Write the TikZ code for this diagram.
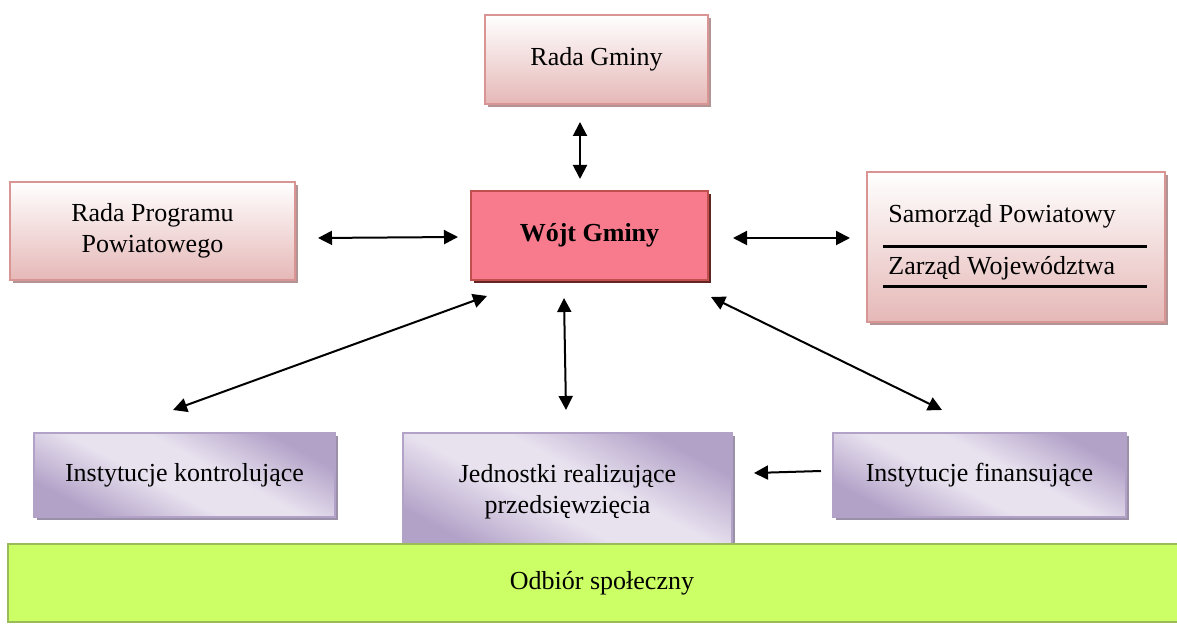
\documentclass[tikz,border=0pt]{standalone}
\usepackage{fontspec}
\setmainfont{Liberation Serif}
\usetikzlibrary{arrows.meta,calc,shadows}
\definecolor{PinkTop}{HTML}{FFFFFF}
\definecolor{PinkBot}{HTML}{E5B8B7}
\definecolor{PinkLine}{HTML}{D99594}
\definecolor{PinkShade}{HTML}{B39494}
\definecolor{WojtFill}{HTML}{F77B8C}
\definecolor{WojtLine}{HTML}{C0504D}
\definecolor{WojtShade}{HTML}{632523}
\definecolor{LavLight}{HTML}{E8E2EF}
\definecolor{LavDark}{HTML}{B3A2C8}
\definecolor{LavShade}{HTML}{9A90A8}
\definecolor{BarFill}{HTML}{CCFF66}
\definecolor{BarLine}{HTML}{9BBB59}
\pgfdeclarehorizontalshading{lavshade}{100bp}{color(0bp)=(LavDark); color(26bp)=(LavDark);
  color(44bp)=(LavLight); color(56bp)=(LavLight); color(74bp)=(LavDark); color(100bp)=(LavDark)}
\tikzset{
  boxfont/.style={font=\fontsize{13}{15.5}\selectfont},
  pinkbox/.style={boxfont,draw=PinkLine,line width=1pt,top color=PinkTop,bottom color=PinkBot,
    general shadow={fill=PinkShade,shadow xshift=1.5pt,shadow yshift=-1.5pt},align=center},
  wojtbox/.style={boxfont,draw=WojtLine,line width=1pt,fill=WojtFill,
    general shadow={fill=WojtShade,shadow xshift=1.5pt,shadow yshift=-1.5pt}},
  lavbox/.style={boxfont,draw=LavDark,line width=1pt,shading=lavshade,shading angle=62,
    general shadow={fill=LavShade,shadow xshift=1.5pt,shadow yshift=-1.5pt},align=center},
  barbox/.style={boxfont,draw=BarLine,line width=1pt,fill=BarFill},
  link/.style={{Triangle[length=7pt,width=7pt]}-{Triangle[length=7pt,width=7pt]},line width=1pt},
  onelink/.style={-{Triangle[length=7pt,width=7pt]},line width=1pt},
  rule/.style={line width=1.5pt}
}
\begin{document}
\begin{tikzpicture}[x=0.5pt,y=-0.5pt]
  \useasboundingbox (0,0) rectangle (1177,624);
  % top row
  \node[pinkbox,minimum width=111.5pt,minimum height=44.5pt] (rada) at (596.5,59.5) {Rada Gminy};
  \node[pinkbox,minimum width=142.5pt,minimum height=49pt] (program) at (152.5,231)
    {Rada Programu\\Powiatowego};
  \node[wojtbox,minimum width=118.5pt,minimum height=44.5pt] (wojt) at (589.5,235.5)
    {\textbf{Wójt Gminy}};
  \node[pinkbox,minimum width=149pt,minimum height=75pt] (samorzad) at (1016,247) {};
  \node[boxfont,anchor=base west,inner sep=0pt] (powiat) at ($(samorzad.west)+(22,-24)$)
    {Samorząd Powiatowy};
  \node[boxfont,anchor=base west,inner sep=0pt] (wojew) at ($(samorzad.west)+(22,28)$)
    {Zarząd Województwa};
  \draw[rule] ($(samorzad.west)+(17,0)$) -- ($(samorzad.west)+(281,0)$);
  \draw[rule] ($(samorzad.west)+(17,40)$) -- ($(samorzad.west)+(281,40)$);

  % bottom row
  \node[lavbox,minimum width=150.5pt,minimum height=42pt] (kontrol) at (184.5,475)
    {Instytucje kontrolujące};
  \node[lavbox,minimum width=164.5pt,minimum height=59pt] (jednostki) at (567.5,492)
    {Jednostki realizujące\\przedsięwzięcia};
  \node[lavbox,minimum width=146.5pt,minimum height=42pt] (finans) at (979.5,475)
    {Instytucje finansujące};
  \node[barbox,minimum width=594pt,minimum height=39pt] (odbior) at (602,583) {Odbiór społeczny};

  % arrows
  \draw[link] ($(rada.south)+(-16.5,17)$) -- ($(wojt.north)+(-9.5,-11)$);
  \draw[link] ($(program.east)+(22,7)$) -- ($(wojt.west)+(-12,1.5)$);
  \draw[link] ($(wojt.east)+(24,2.5)$) -- ($(samorzad.west)+(-16,-9)$);
  \draw[link] ($(wojt.south west)+(17,15)$) -- ($(kontrol.north)+(-11.5,-22)$);
  \draw[link] ($(wojt.south)+(-25.5,17)$) -- ($(jednostki.north)+(-1.5,-22)$);
  \draw[link] ($(wojt.south east)+(2,16)$) -- ($(finans.north)+(-37.5,-22)$);
  \draw[onelink] ($(finans.west)+(-11,-4)$) -- ($(jednostki.east)+(21,-19)$);
\end{tikzpicture}
\end{document}
